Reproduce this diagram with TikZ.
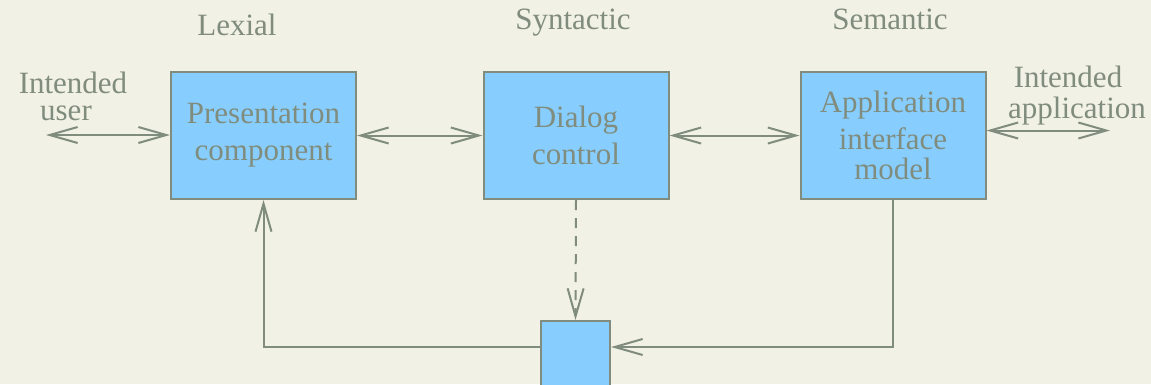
\documentclass[tikz,border=0pt]{standalone}
\usepackage{fontspec}
\setmainfont{Liberation Serif}
\usetikzlibrary{arrows.meta}
\definecolor{paper}{RGB}{242,241,230}
\definecolor{boxfill}{RGB}{135,206,255}
\definecolor{ink}{RGB}{128,140,125}
\tikzset{
  module/.style={draw=ink, line width=2pt, fill=boxfill, text=ink,
    minimum width=185pt, minimum height=127pt, align=center, inner sep=0pt,
    font=\fontsize{31}{37}\selectfont},
  label/.style={text=ink, anchor=base, inner sep=0pt, font=\fontsize{31}{37}\selectfont},
  barb/.tip={Straight Barb[length=28pt,width=16pt,line width=2pt]},
  link/.style={draw=ink, line width=2pt, barb-barb},
  flow/.style={draw=ink, line width=2pt, -barb},
}
\begin{document}
\begin{tikzpicture}[x=1pt,y=-1pt]
  \fill[paper] (0,0) rectangle (1151,384);
  \useasboundingbox (0,0) rectangle (1151,384);

  % layer captions
  \node[label] (lex) at (237,35) {Lexial};
  \node[label] (syn) at (573,29) {Syntactic};
  \node[label] (sem) at (890,29) {Semantic};

  % the three components
  \node[module] (pres) at (263.5,135.5) {Presentation\\component};
  \node[module] (dlg) at (576,135.5) {Dialog\\control};
  \node[module] (app) at (893,135.5) {Application\\interface\\[-7pt]model};

  % feedback box
  \node[draw=ink, line width=2pt, fill=boxfill, minimum width=69pt,
        minimum height=70pt, inner sep=0pt] (fbk) at (575.5,356) {};

  % end points outside the system
  \node[label] (usr1) at (73,93) {Intended};
  \node[label] (usr2) at (66,120) {user};
  \node[label] (appl1) at (1068,87) {Intended};
  \node[label] (appl2) at (1077,118) {application};
  \coordinate (uend) at (46,135);
  \coordinate (aend) at (1110,130.5);
  \coordinate (fby) at (0,347);

  % connectors
  \draw[link] (uend) -- (uend -| pres.west);
  \draw[link] (pres.east) -- (dlg.west);
  \draw[link] (dlg.east) -- (app.west);
  \draw[link] (app.east |- aend) -- (aend);
  \draw[flow, dash pattern=on 10pt off 8pt] (dlg.south) -- (fbk.north);
  \draw[flow] (app.south) |- (fbk.east |- fby);
  \draw[flow] (fbk.west |- fby) -| (pres.south);
\end{tikzpicture}
\end{document}
